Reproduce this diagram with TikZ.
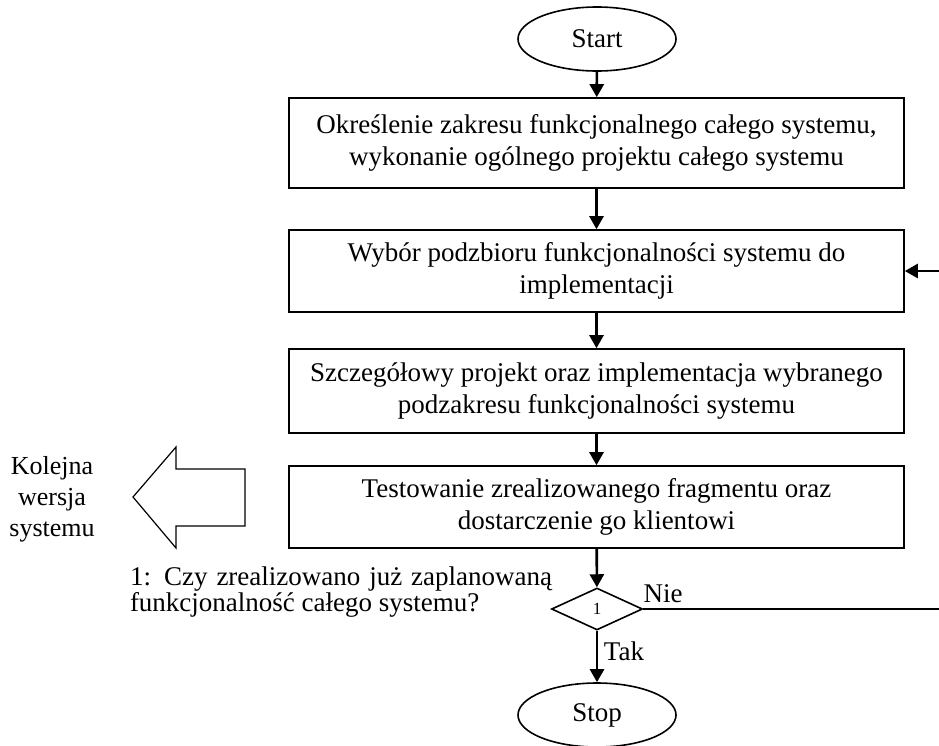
\documentclass[tikz,border=0pt]{standalone}
\usepackage{fontspec}
\setmainfont{Liberation Serif}
\usetikzlibrary{shapes.geometric,arrows.meta}
\tikzset{
  stepbox/.style={draw,line width=1.6pt,minimum width=615pt,inner sep=0pt,align=center,font=\fontsize{27}{32}\selectfont},
  term/.style={draw,ellipse,line width=1.6pt,minimum width=158pt,minimum height=64pt,inner sep=0pt,font=\fontsize{27}{30}\selectfont},
  flow/.style={line width=2.6pt,-{Triangle[length=13pt,width=14pt]}},
  lbl/.style={font=\fontsize{27}{30}\selectfont,inner sep=0pt}
}
\begin{document}
\begin{tikzpicture}[x=1pt,y=-1pt]
    \useasboundingbox (0,0) rectangle (939,745);
    % glowny ciag
    \node[term] (start) at (597,39) {Start};
    \node[stepbox,minimum height=90pt] (b1) at (596.5,143) {Określenie zakresu funkcjonalnego całego systemu,\\wykonanie ogólnego projektu całego systemu};
    \node[stepbox,minimum height=82pt] (b2) at (596.5,271) {Wybór podzbioru funkcjonalności systemu do\\implementacji};
    \node[stepbox,minimum height=84pt] (b3) at (596.5,391) {Szczegółowy projekt oraz implementacja wybranego\\podzakresu funkcjonalności systemu};
    \node[stepbox,minimum height=82pt] (b4) at (596.5,507) {Testowanie zrealizowanego fragmentu oraz\\dostarczenie go klientowi};
    \node[draw,diamond,line width=1.6pt,minimum width=91pt,minimum height=42pt,inner sep=0pt,font=\fontsize{17}{17}\selectfont] (d1) at (597,609) {1};
    \node[term] (stop) at (597,715) {Stop};
    \coordinate (nieend) at (939,609);
    \coordinate (back) at (939,271);
    \draw[flow] (start) -- (b1);
    \draw[flow] (b1) -- (b2);
    \draw[flow] (b2) -- (b3);
    \draw[flow] (b3) -- (b4);
    \draw[flow] (b4) -- (d1);
    \draw[flow] (d1) -- (stop);
    \draw[line width=2.6pt] (d1.east) -- (nieend);
    \draw[flow] (back) -- (b2.east);
    \node[lbl] (nie) at (663,594) {Nie};
    \node[lbl] (tak) at (624,651) {Tak};
    % opis warunku
    \node[lbl,text width=422pt,align=justify,font=\fontsize{27}{24}\selectfont] (q) at (341,592) {1: Czy zrealizowano już zaplanowaną\linebreak funkcjonalność całego systemu?};
    % kolejna wersja
    \node[lbl,align=center,font=\fontsize{26}{31}\selectfont] (next) at (52,499) {Kolejna\\wersja\\systemu};
    \draw[line width=1.2pt] (245,469) -- (176,469) -- (176,447) -- (133,497) -- (176,548) -- (176,526) -- (245,526) -- cycle;
\end{tikzpicture}
\end{document}
